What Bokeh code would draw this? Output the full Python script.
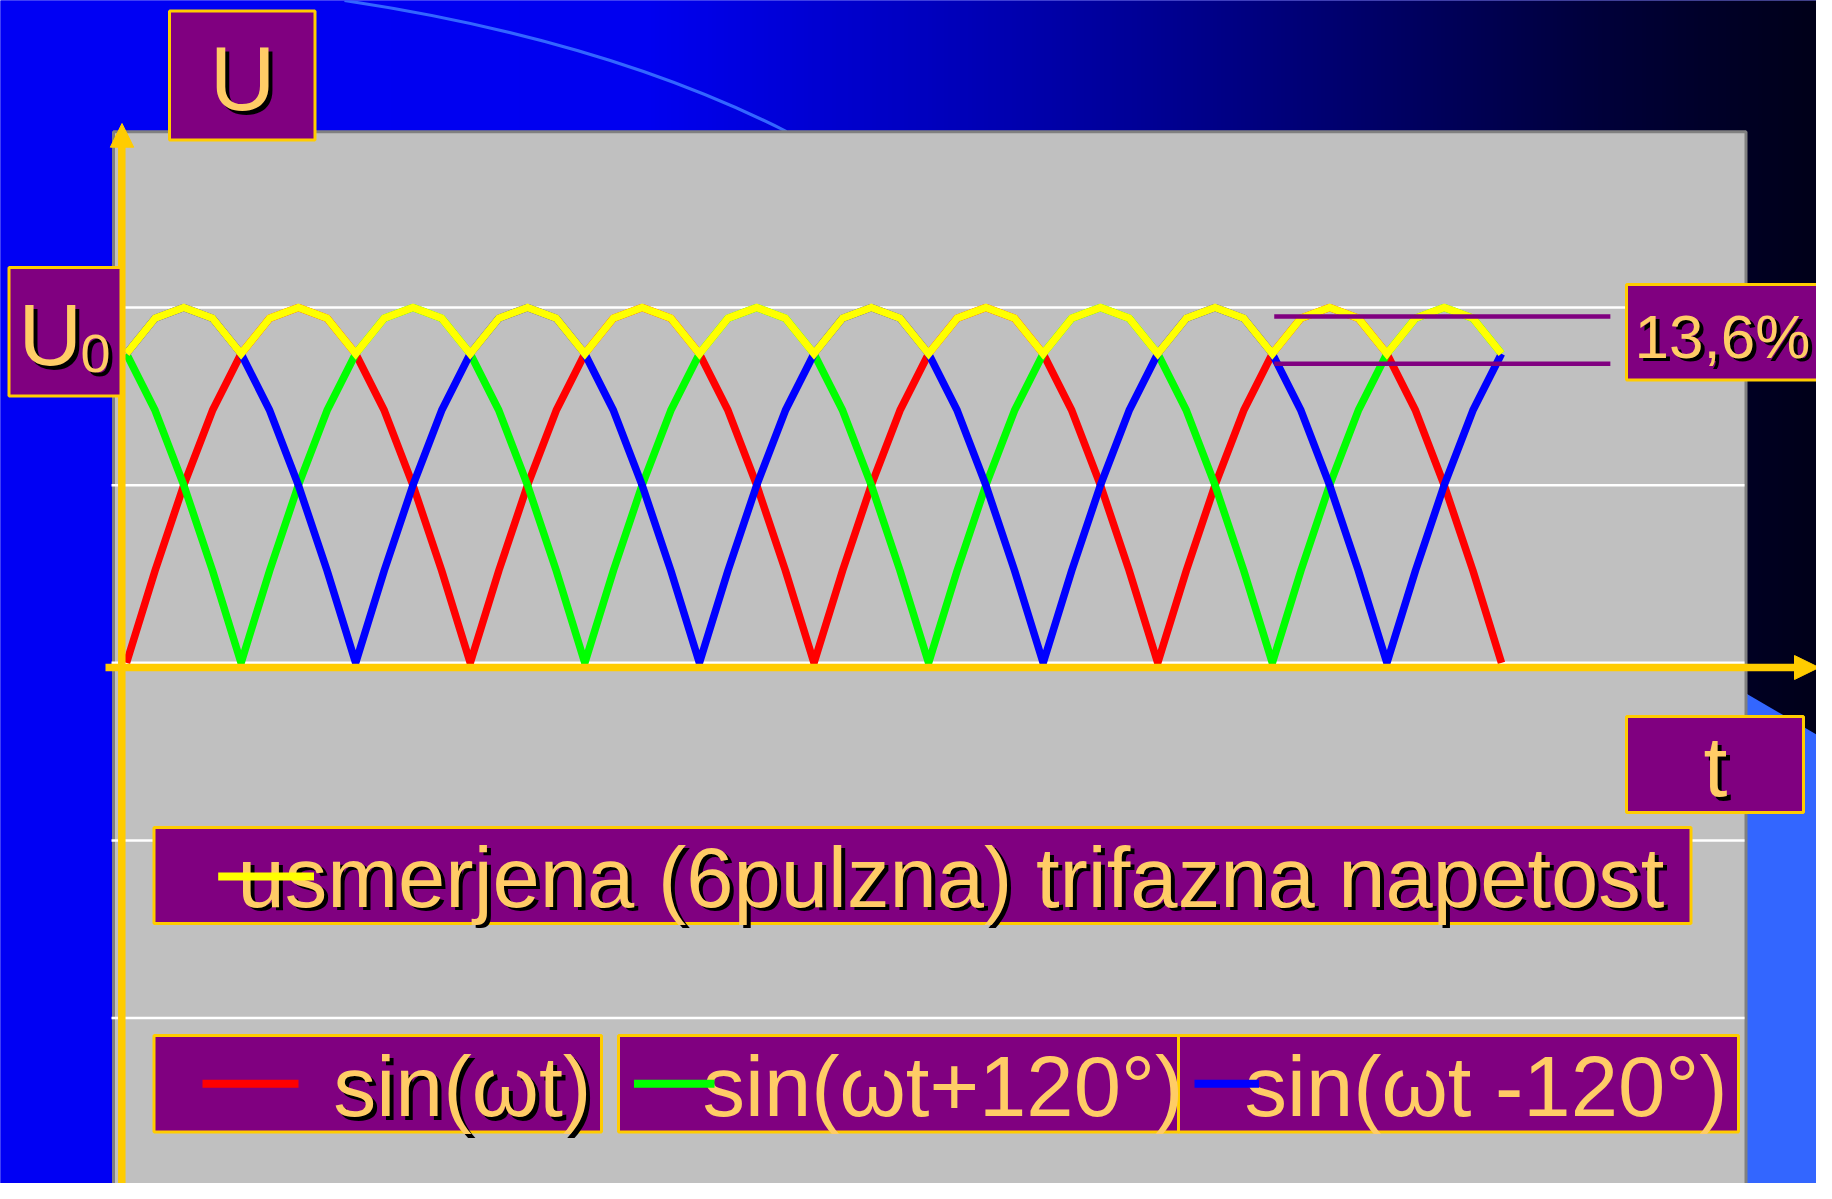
import numpy as np
from bokeh.plotting import figure
from bokeh.models import Range1d
from bokeh.core.properties import value
from bokeh.embed import file_html
from bokeh.resources import INLINE

# ---------------- data ----------------
t_deg = [0, 15, 30, 45, 60, 75, 90, 105, 120, 135, 150, 165,
         180, 195, 210, 225, 240, 255, 270, 285, 300, 315, 330, 345,
         360, 375, 390, 405, 420, 435, 450, 465, 480, 495, 510, 525,
         540, 555, 570, 585, 600, 615, 630, 645, 660, 675, 690, 705,
         720]

sin_wt = [0.00, 0.26, 0.50, 0.71, 0.87, 0.97, 1.00, 0.97, 0.87, 0.71, 0.50, 0.26,
          0.00, 0.26, 0.50, 0.71, 0.87, 0.97, 1.00, 0.97, 0.87, 0.71, 0.50, 0.26,
          0.00, 0.26, 0.50, 0.71, 0.87, 0.97, 1.00, 0.97, 0.87, 0.71, 0.50, 0.26,
          0.00, 0.26, 0.50, 0.71, 0.87, 0.97, 1.00, 0.97, 0.87, 0.71, 0.50, 0.26,
          0.00]

sin_wt_plus120 = [0.87, 0.71, 0.50, 0.26, 0.00, 0.26, 0.50, 0.71, 0.87, 0.97, 1.00, 0.97,
                  0.87, 0.71, 0.50, 0.26, 0.00, 0.26, 0.50, 0.71, 0.87, 0.97, 1.00, 0.97,
                  0.87, 0.71, 0.50, 0.26, 0.00, 0.26, 0.50, 0.71, 0.87, 0.97, 1.00, 0.97,
                  0.87, 0.71, 0.50, 0.26, 0.00, 0.26, 0.50, 0.71, 0.87, 0.97, 1.00, 0.97,
                  0.87]

sin_wt_minus120 = [0.87, 0.97, 1.00, 0.97, 0.87, 0.71, 0.50, 0.26, 0.00, 0.26, 0.50, 0.71,
                   0.87, 0.97, 1.00, 0.97, 0.87, 0.71, 0.50, 0.26, 0.00, 0.26, 0.50, 0.71,
                   0.87, 0.97, 1.00, 0.97, 0.87, 0.71, 0.50, 0.26, 0.00, 0.26, 0.50, 0.71,
                   0.87, 0.97, 1.00, 0.97, 0.87, 0.71, 0.50, 0.26, 0.00, 0.26, 0.50, 0.71,
                   0.87]

rectified_6pulse = [0.87, 0.97, 1.00, 0.97, 0.87, 0.97, 1.00, 0.97, 0.87, 0.97, 1.00, 0.97,
                    0.87, 0.97, 1.00, 0.97, 0.87, 0.97, 1.00, 0.97, 0.87, 0.97, 1.00, 0.97,
                    0.87, 0.97, 1.00, 0.97, 0.87, 0.97, 1.00, 0.97, 0.87, 0.97, 1.00, 0.97,
                    0.87, 0.97, 1.00, 0.97, 0.87, 0.97, 1.00, 0.97, 0.87, 0.97, 1.00, 0.97,
                    0.87]

ripple_t = [601, 777]
ripple_levels = [0.975, 0.842]
grid_levels = [1.0, 0.5, 0.0, -0.5, -1.0]

series_colors = ["#FF0000", "#00FF00", "#0000FF", "#FFFF00"]
legend_labels = ["sin(\u03c9t)", "sin(\u03c9t+120\u00b0)", "sin(\u03c9t -120\u00b0)"]
rectified_label = "usmerjena (6pulzna) trifazna napetost"
ripple_label = "13,6%"
y_label = "U"
u0_label = ("U", "0")
x_label = "t"

# ---------------- page geometry (reference pixels) ----------------
W, H = 1816, 1183
OX, OY = 0, 0
T0_X, PX_PER_DEG = 126.0, 1.90972
V0_Y, PX_PER_UNIT = 662.3, 355.3
BASELINE_FIX = 0.35   # empirical shift of the alphabetic baseline, in em


def tx(X):
    return (X - T0_X) / PX_PER_DEG


def vy(Y):
    return (V0_Y - Y) / PX_PER_UNIT


PURPLE = "#800080"
GOLD = "#FFCC00"
TEXT = "#FFCC66"
FONT = value("Liberation Sans")

p = figure(width=W, height=H,
           x_range=Range1d(tx(OX), tx(OX + W)),
           y_range=Range1d(vy(OY + H), vy(OY)),
           x_axis_type=None, y_axis_type=None,
           toolbar_location=None, output_backend="svg",
           min_border=0, title_location=None)
p.outline_line_color = None
p.background_fill_color = "#0000F5"
p.border_fill_color = "#0000F5"

# ---- slide background: horizontal blue -> black gradient ----
ncols = 454
xs_px = OX + (np.arange(ncols) + 0.5) * W / ncols
blue = np.interp(xs_px, [0, 650, 1000, 1300, 1600, 1832], [245, 240, 178, 118, 58, 22])
img = np.zeros((1, ncols), dtype=np.uint32)
view = img.view(dtype=np.uint8).reshape((1, ncols, 4))
view[0, :, 2] = blue.astype(np.uint8)
view[0, :, 3] = 255
p.image_rgba(image=[img], x=tx(OX - 2), y=vy(OY + H + 2), dw=tx(OX + W + 2) - tx(OX - 2),
             dh=vy(OY - 2) - vy(OY + H + 2))

# decorative arc and light-blue shape of the slide design
p.quadratic(x0=tx(344), y0=vy(0), x1=tx(786), y1=vy(131), cx=tx(604), cy=vy(39),
            line_color="#3366FF", line_width=3)
p.patch(x=[tx(1708), tx(1840), tx(1840), tx(1708)],
        y=[vy(671), vy(748), vy(1210), vy(1210)],
        fill_color="#3366FF", line_color=None)

# ---- grey chart panel ----
p.quad(left=tx(113), right=tx(1745.5), top=vy(131.3), bottom=vy(1193),
       fill_color="#C0C0C0", line_color="#808080", line_width=3)

# gridlines
p.segment(x0=[tx(111)] * len(grid_levels), x1=[tx(1744)] * len(grid_levels),
          y0=grid_levels, y1=grid_levels, line_color="#FFFFFF", line_width=2.5)

# ---- data series ----
for ys, col in zip([sin_wt, sin_wt_plus120, sin_wt_minus120], series_colors[:3]):
    p.line(t_deg, ys, line_color=col, line_width=7.5, line_join="bevel")
p.line(t_deg, rectified_6pulse, line_color=series_colors[3], line_width=7.5, line_join="miter")

# ripple markers
p.segment(x0=[ripple_t[0]] * 2, x1=[ripple_t[1]] * 2, y0=ripple_levels, y1=ripple_levels,
          line_color=PURPLE, line_width=4.5)

# ---- yellow axes with arrow heads ----
p.segment(x0=[tx(121.3), tx(105)], x1=[tx(121.3), tx(1796)],
          y0=[vy(1205), vy(667)], y1=[vy(145), vy(667)],
          line_color=GOLD, line_width=7.5)
p.patches(xs=[[tx(109.8), tx(121.5), tx(133.2)], [tx(1794), tx(1818.5), tx(1794)]],
          ys=[[vy(146.7), vy(123), vy(146.7)], [vy(655), vy(667), vy(679)]],
          fill_color=GOLD, line_color=GOLD, line_width=1)

# ---- label boxes ----
boxes = [
    (169, 314.5, 10.5, 139.5),     # U
    (8.5, 120.5, 267, 395.5),      # U0
    (1626, 1845, 284, 379.5),      # 13,6%
    (1626, 1803, 716, 812),        # t
    (153.5, 1690.5, 827, 923),     # rectified label
    (153.5, 601, 1035, 1131.5),    # legend 1
    (618, 1178, 1035, 1131.5),     # legend 2
    (1178, 1738, 1035, 1131.5),    # legend 3
]
p.quad(left=[tx(b[0]) for b in boxes], right=[tx(b[1]) for b in boxes],
       top=[vy(b[2]) for b in boxes], bottom=[vy(b[3]) for b in boxes],
       fill_color=PURPLE, line_color=GOLD, line_width=3)

# ---- texts (text, x, baseline y, size px, align, shadow) ----
texts = [
    (y_label, 242, 110, 91, "center", True),
    (u0_label[0], 18, 365, 88, "left", True),
    (u0_label[1], 80, 372, 54, "left", True),
    (ripple_label, 1634, 357.3, 62, "left", True),
    (x_label, 1715, 796, 86, "center", True),
    (rectified_label, 237, 906.7, 85, "left", True),
    (legend_labels[0], 332.7, 1116, 86, "left", True),
    (legend_labels[1], 702, 1116, 85, "left", False),
    (legend_labels[2], 1244, 1116, 85, "left", False),
]
for txt, X, Y, size, align, shadow in texts:
    Yd = Y - BASELINE_FIX * size
    if shadow:
        p.text(x=[tx(X + 4)], y=[vy(Yd + 3.5)], text=[txt], text_font=FONT,
               text_font_size=value(f"{size}px"), text_color="#000000",
               text_align=align, text_baseline="alphabetic")
    p.text(x=[tx(X)], y=[vy(Yd)], text=[txt], text_font=FONT,
           text_font_size=value(f"{size}px"), text_color=TEXT,
           text_align=align, text_baseline="alphabetic")

# ---- legend sample lines (drawn over the texts, as in the original) ----
samples_x0 = [tx(217.7), tx(202), tx(633.5), tx(1194)]
samples_x1 = [tx(313.5), tx(298), tx(714), tx(1258.5)]
samples_y = [vy(876), vy(1083.3), vy(1083.3), vy(1083.3)]
p.segment(x0=samples_x0, x1=samples_x1, y0=samples_y, y1=samples_y,
          line_color=[series_colors[3], series_colors[0], series_colors[1], series_colors[2]],
          line_width=8)

open("out.html", "w").write(file_html(p, INLINE))
